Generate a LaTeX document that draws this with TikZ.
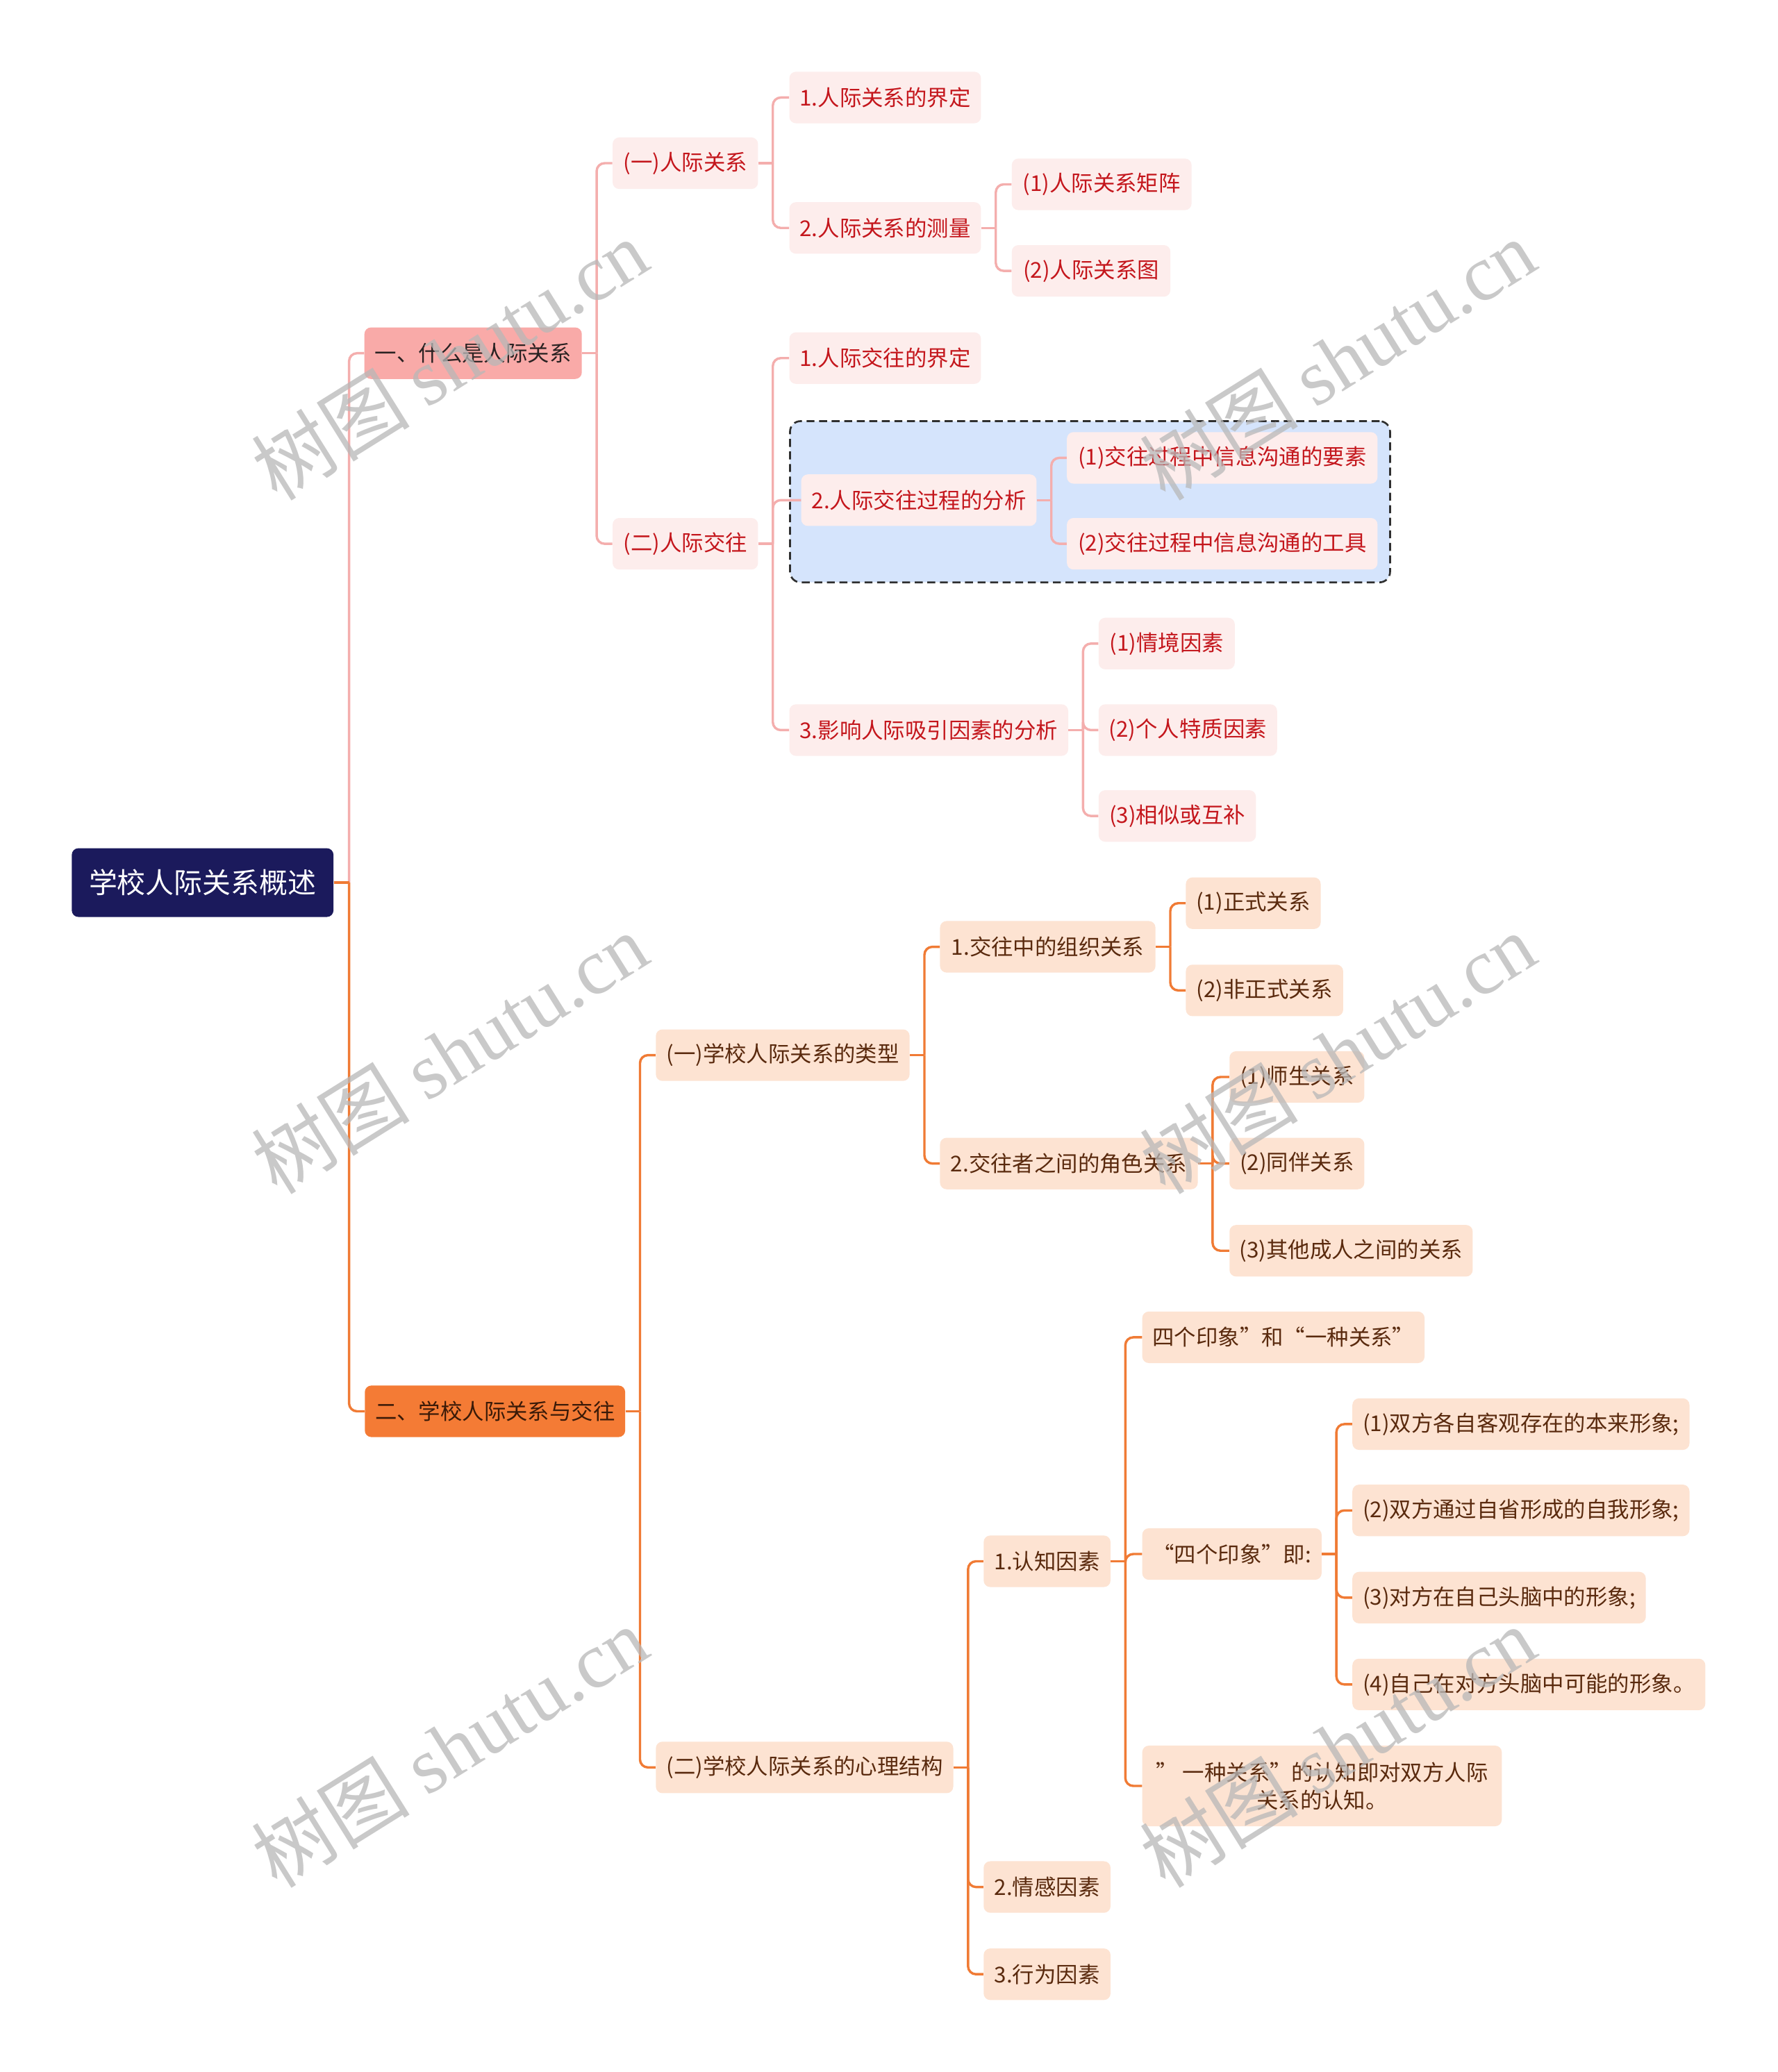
\documentclass[tikz,border=0pt]{standalone}
\usepackage{fontspec}
\setmainfont{Noto Sans CJK SC}
\newfontfamily\wmserif{Liberation Serif}
\usetikzlibrary{calc}
\definecolor{rootc}{HTML}{1B1A5C}
\definecolor{pinkA}{HTML}{F9AAA8}
\definecolor{pinkAT}{HTML}{2A2222}
\definecolor{pinkL}{HTML}{FDEDEC}
\definecolor{pinkT}{HTML}{C4161C}
\definecolor{pinkLine}{HTML}{F4AEAD}
\definecolor{oraB}{HTML}{F47B35}
\definecolor{oraBT}{HTML}{3A1A08}
\definecolor{oraL}{HTML}{FDE3D2}
\definecolor{oraT}{HTML}{5A2A0E}
\definecolor{oraLine}{HTML}{F07B35}
\definecolor{blueBox}{HTML}{D5E4FC}
\definecolor{dashc}{HTML}{2F2F2F}
\definecolor{wmc}{HTML}{B8B8B8}
\newcommand\mmbranch[3]{%
  \draw[#1] (#2.east) -- ++(11pt,0) coordinate (#2-t);
  \foreach \kid in {#3}{\draw[#1] (#2-t) |- (\kid.west);}
}
\begin{document}
\begin{tikzpicture}[x=1pt,y=-1pt,
  nd/.style={anchor=west, rounded corners=5pt, inner xsep=7pt, inner ysep=0pt,
    minimum height=39pt, font=\fontsize{16.5}{21}\selectfont, align=center},
  pk/.style={nd, fill=pinkL, text=pinkT},
  og/.style={nd, fill=oraL, text=oraT},
  pc/.style={draw=pinkLine, line width=1.8pt, rounded corners=6pt},
  oc/.style={draw=oraLine, line width=1.8pt, rounded corners=6pt},
  dashbox/.style={anchor=north west, draw=dashc, fill=blueBox, dash pattern=on 6pt off 3.5pt,
    line width=1.4pt, rounded corners=8pt, inner sep=0pt},
  wm/.style={rotate=32, text=wmc, text opacity=0.75, inner sep=0pt,
    font=\fontsize{60}{60}\selectfont}
]
\fill[white] (0,0) rectangle (1345,1568);
\useasboundingbox (0,0) rectangle (1345,1568);

% group box
\node[dashbox, minimum width=454pt, minimum height=122pt] (grp) at (597,318) {};

% root and level 1
\node[nd, fill=rootc, text=white, minimum width=198pt, minimum height=52pt,
      font=\fontsize{21.5}{26}\selectfont] (root) at (54.1,667.9) {学校人际关系概述};
\node[nd, fill=pinkA, text=pinkAT, minimum width=164.5pt] (A) at (275.5,267.3) {一、什么是人际关系};
\node[nd, fill=oraB, text=oraBT, minimum width=197pt] (B) at (275.8,1068) {二、学校人际关系与交往};

% pink branch
\node[pk, minimum width=110pt] (A1) at (463.3,123.5) {(一)人际关系};
\node[pk, minimum width=110pt] (A2) at (463.3,411.5) {(二)人际交往};
\node[pk, minimum width=145pt] (A1a) at (597,73.8) {1.人际关系的界定};
\node[pk, minimum width=145pt] (A1b) at (597,172.5) {2.人际关系的测量};
\node[pk, minimum width=136pt] (A1b1) at (765.3,139.5) {(1)人际关系矩阵};
\node[pk, minimum width=120pt] (A1b2) at (765.3,205) {(2)人际关系图};
\node[pk, minimum width=145pt] (A2a) at (597,271) {1.人际交往的界定};
\node[pk, minimum width=178pt] (A2b) at (606,378.5) {2.人际交往过程的分析};
\node[pk, minimum width=235pt] (A2b1) at (807,346.5) {(1)交往过程中信息沟通的要素};
\node[pk, minimum width=235pt] (A2b2) at (807,411.5) {(2)交往过程中信息沟通的工具};
\node[pk, minimum width=211pt] (A2c) at (597,552.5) {3.影响人际吸引因素的分析};
\node[pk, minimum width=103pt] (A2c1) at (831,487) {(1)情境因素};
\node[pk, minimum width=135pt] (A2c2) at (831,552.5) {(2)个人特质因素};
\node[pk, minimum width=119pt] (A2c3) at (831,617.5) {(3)相似或互补};

% orange branch
\node[og, minimum width=192pt] (B1) at (496,798.5) {(一)学校人际关系的类型};
\node[og, minimum width=225pt] (B2) at (496,1337.5) {(二)学校人际关系的心理结构};
\node[og, minimum width=163pt] (B1a) at (711,716.5) {1.交往中的组织关系};
\node[og, minimum width=102pt] (B1a1) at (897,683.5) {(1)正式关系};
\node[og, minimum width=119pt] (B1a2) at (897,749.5) {(2)非正式关系};
\node[og, minimum width=195pt] (B1b) at (711,880.5) {2.交往者之间的角色关系};
\node[og, minimum width=102pt] (B1b1) at (930,815) {(1)师生关系};
\node[og, minimum width=102pt] (B1b2) at (930,880.5) {(2)同伴关系};
\node[og, minimum width=184pt] (B1b3) at (930,946.5) {(3)其他成人之间的关系};
\node[og, minimum width=96pt] (B2a) at (744,1181.5) {1.认知因素};
\node[og, minimum width=96pt] (B2b) at (744,1428) {2.情感因素};
\node[og, minimum width=96pt] (B2c) at (744,1494) {3.行为因素};
\node[og, minimum width=213.6pt] (B2a1) at (864,1012) {四个印象”和“一种关系”};
\node[og, minimum width=135.7pt] (B2a2) at (864,1176) {“四个印象”即:};
\node[og, minimum width=272pt, minimum height=61pt] (B2a3) at (864,1351.5)
  {” 一种关系”的认知即对双方人际\\关系的认知。};
\node[og, minimum width=255pt] (B2a2a) at (1023,1077.7) {(1)双方各自客观存在的本来形象;};
\node[og, minimum width=255pt] (B2a2b) at (1023,1143) {(2)双方通过自省形成的自我形象;};
\node[og, minimum width=222pt] (B2a2c) at (1023,1209) {(3)对方在自己头脑中的形象;};
\node[og, minimum width=267pt] (B2a2d) at (1023,1274.7) {(4)自己在对方头脑中可能的形象。};

% connectors
\draw[oc] (root.east) -- ++(11.6pt,0) coordinate (root-t);
\draw[pc] (root-t) |- (A.west);
\draw[oc] (root-t) |- (B.west);
\draw[oc] (root.east) -- (root-t);

\mmbranch{pc}{A}{A1,A2}
\mmbranch{pc}{A1}{A1a,A1b}
\mmbranch{pc}{A1b}{A1b1,A1b2}
\mmbranch{pc}{A2}{A2a,A2b,A2c}
\mmbranch{pc}{A2b}{A2b1,A2b2}
\mmbranch{pc}{A2c}{A2c1,A2c2,A2c3}

\mmbranch{oc}{B}{B1,B2}
\mmbranch{oc}{B1}{B1a,B1b}
\mmbranch{oc}{B1a}{B1a1,B1a2}
\mmbranch{oc}{B1b}{B1b1,B1b2,B1b3}
\mmbranch{oc}{B2}{B2a,B2b,B2c}
\mmbranch{oc}{B2a}{B2a1,B2a2,B2a3}
\mmbranch{oc}{B2a2}{B2a2a,B2a2b,B2a2c,B2a2d}

% watermarks
\node[wm] (w1) at (340,272) {树图 {\wmserif shutu.cn}};
\node[wm] (w2) at (1012,272) {树图 {\wmserif shutu.cn}};
\node[wm] (w3) at (340,797) {树图 {\wmserif shutu.cn}};
\node[wm] (w4) at (1012,797) {树图 {\wmserif shutu.cn}};
\node[wm] (w5) at (340,1322) {树图 {\wmserif shutu.cn}};
\node[wm] (w6) at (1012,1322) {树图 {\wmserif shutu.cn}};
\end{tikzpicture}
\end{document}
